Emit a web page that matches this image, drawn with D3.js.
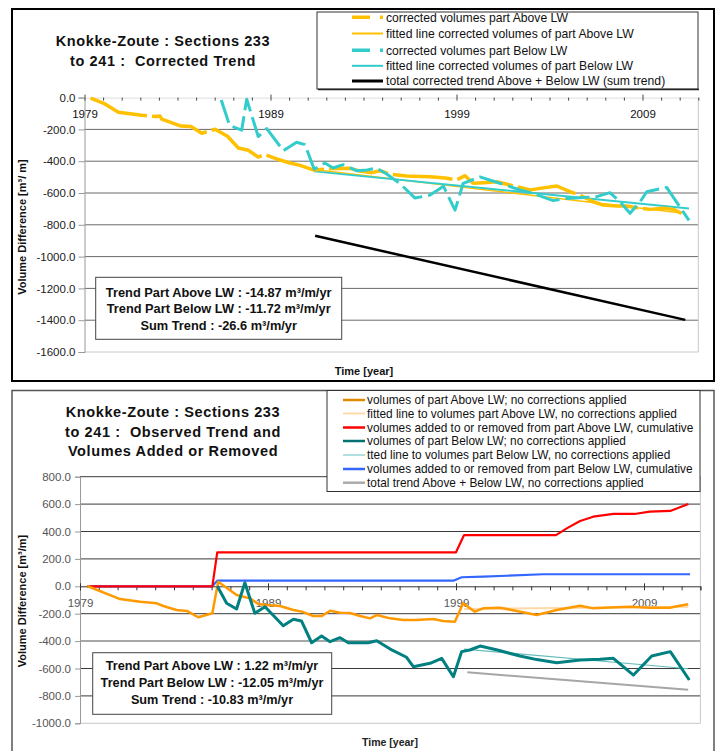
<!DOCTYPE html>
<html><head><meta charset="utf-8">
<script src="https://cdn.jsdelivr.net/npm/d3@7"></script>
<style>
body{margin:0;background:#fff;}
svg{display:block;font-family:"Liberation Sans",Arial,sans-serif;}
text{white-space:pre;}
</style></head>
<body><svg id="c" width="715" height="751"></svg>
<script>
// ---------- DATA: top chart (corrected trend) ----------
const aboveCorrYears = [1979.33,1980.1,1980.82,1982.08,1982.85,1983.06,1983.15,1984.19,1984.73,1985.3,1986.02,1986.69,1987.27,1987.81,1988.34,1988.7,1989.33,1990.05,1990.59,1991.3,1992.36,1993.27,1993.81,1994.44,1994.89,1995.43,1996.32,1997.58,1998.4,1999.01,1999.46,1999.9,2000.44,2001.16,2001.7,2002.3,2002.95,2003.49,2004.39,2005.1,2005.64,2006.35,2006.89,2007.61,2008.15,2008.87,2009.4,2010.12,2010.66,2011.1];
const aboveCorrVals  = [-4,-40,-92,-111,-119,-116,-135,-179,-182,-224,-199,-243,-317,-331,-374,-358,-386,-411,-426,-455,-446,-445,-462,-472,-460,-482,-493,-498,-506,-518,-491,-539,-535,-529,-545,-562,-581,-571,-556,-592,-613,-655,-676,-682,-682,-696,-703,-696,-703,-728];
const belowCorrYears = [1986.35,1986.8,1987.45,1987.72,1988.34,1988.8,1989.69,1990.4,1990.85,1991.35,1991.92,1992.37,1992.9,1993.63,1994.2,1994.7,1995.25,1996.0,1996.77,1997.58,1998.3,1998.92,1999.36,2000.26,2001.07,2001.6,2002.41,2003.13,2003.85,2004.2,2004.92,2005.6,2006.54,2007.25,2007.79,2008.33,2008.87,2009.23,2010.3,2011.5];
const belowCorrVals  = [-15,-175,-205,-10,-245,-195,-334,-281,-296,-450,-411,-443,-422,-460,-455,-443,-481,-545,-632,-613,-558,-708,-539,-499,-529,-548,-581,-602,-634,-648,-634,-630,-623,-598,-655,-728,-655,-592,-565,-772];
const aboveFitYears = [1991.3, 2011.1];
const aboveFitVals  = [-452, -726];
const belowFitYears = [1991.35, 2011.5];
const belowFitVals  = [-464, -697];
const sumTrendYears = [1991.4, 2011.3];
const sumTrendVals  = [-869, -1398];
const topYTicks = [0,-200,-400,-600,-800,-1000,-1200,-1400,-1600];

// ---------- DATA: bottom chart (observed trend) ----------
const aboveObsYears = [1979.39,1981.13,1982.2,1983.08,1983.43,1984.14,1984.68,1985.29,1986.04,1986.35,1987.33,1988.04,1988.48,1988.93,1989.64,1990.35,1990.8,1991.41,1991.86,1992.3,1992.83,1993.36,1993.9,1994.43,1994.78,1995.5,1996.2,1996.9,1997.8,1998.3,1998.94,1999.38,2000.0,2000.45,2001.34,2002.23,2003.29,2004.36,2005.6,2006.3,2007.2,2008.26,2009.3,2010.37,2010.9,2011.35];
const aboveObsVals  = [2,-93,-112,-124,-144,-173,-180,-226,-197,34,-64,-88,-129,-137,-144,-173,-185,-217,-217,-178,-193,-195,-217,-234,-210,-234,-246,-246,-239,-253,-258,-124,-185,-161,-156,-180,-209,-173,-142,-161,-155,-149,-156,-156,-142,-131];
const belowObsYears = [1986.3,1986.8,1987.33,1987.77,1988.3,1988.84,1989.81,1990.35,1990.78,1991.32,1991.85,1992.3,1992.83,1993.27,1994.34,1994.78,1995.5,1996.37,1996.73,1997.62,1998.24,1998.86,1999.3,1999.74,2000.28,2001.2,2002.4,2003.3,2004.36,2005.6,2006.66,2007.37,2008.44,2009.41,2010.4,2011.41];
const belowObsVals  = [2,-124,-166,26,-197,-149,-288,-241,-253,-412,-363,-404,-375,-412,-412,-397,-458,-518,-587,-562,-526,-660,-477,-465,-436,-465,-509,-535,-558,-538,-533,-526,-648,-509,-477,-684];
const addedAboveYears = [1979.39,1986.04,1986.3,1999.0,1999.43,2004.32,2004.89,2005.6,2006.3,2007.37,2008.5,2009.3,2010.4,2011.36];
const addedAboveVals  = [0,0,248,248,374,374,423,477,508,528,528,545,550,601];
const addedBelowYears = [1979.39,1986.04,1986.3,1998.86,1999.3,2000.45,2001.7,2003.64,2011.45];
const addedBelowVals  = [0,0,41,41,66,70,77,88,88];
const aboveObsFitYears = [1999.43, 2011.35];
const aboveObsFitVals  = [-165, -150];
const belowObsFitYears = [1999.43, 2011.35];
const belowObsFitVals  = [-458, -602];
const totalObsYears = [1999.6, 2011.35];
const totalObsVals  = [-628, -755];
const botYTicks = [800,600,400,200,0,-200,-400,-600,-800,-1000];

const xLabelYears = [1979,1989,1999,2009];
const yearTicks = d3.range(1979, 2013);

const topLegend = [
  "corrected volumes part Above LW",
  "fitted line corrected volumes of part Above LW",
  "corrected volumes part Below LW",
  "fitted line corrected volumes of part Below LW",
  "total corrected trend Above + Below LW (sum trend)"];
const botLegend = [
  "volumes of part Above LW; no corrections applied",
  "fitted line to volumes part Above LW, no corrections applied",
  "volumes added to or removed from part Above LW, cumulative",
  "volumes of part Below LW; no corrections applied",
  "tted line to volumes part Below LW, no corrections applied",
  "volumes added to or removed from part Below LW, cumulative",
  "total trend Above + Below LW, no corrections applied"];
const topBox = ["Trend Part Above LW : -14.87 m\u00b3/m/yr","Trend Part Below LW : -11.72 m\u00b3/m/yr","Sum Trend : -26.6 m\u00b3/m/yr"];
const botBox = ["Trend Part Above LW : 1.22 m\u00b3/m/yr","Trend Part Below LW : -12.05 m\u00b3/m/yr","Sum Trend : -10.83 m\u00b3/m/yr"];

// ---------- DRAW ----------
const svg = d3.select("#c");
const zip = (xs, ys) => xs.map((x,i)=>[x, ys[i]]);
const fmt = d => d.toFixed(1);

function drawLine(g, x, y, xs, ys, color, width, dash){
  const line = d3.line().x(d=>x(d[0])).y(d=>y(d[1]));
  g.append("path").datum(zip(xs,ys)).attr("d", line)
    .attr("fill","none").attr("stroke",color).attr("stroke-width",width)
    .attr("stroke-linejoin","round")
    .attr("stroke-dasharray", dash || null);
}

// ===== TOP CHART =====
svg.append("rect").attr("x",12).attr("y",9).attr("width",702).attr("height",372)
  .attr("fill","#fff").attr("stroke","#000").attr("stroke-width",2);

const xT = d3.scaleLinear().domain([1979,2012]).range([84.5,698.3]);
const yT = d3.scaleLinear().domain([0,-1600]).range([97.6,352]);
const gT = svg.append("g");

gT.selectAll(".gt").data(topYTicks.filter(v=>v!==0)).enter().append("line")
  .attr("x1",xT(1979)).attr("x2",xT(2012)).attr("y1",d=>yT(d)).attr("y2",d=>yT(d))
  .attr("stroke",d=>d===-1600?"#c8c8c8":"#6a6a6a").attr("stroke-width",1);
gT.append("line").attr("x1",xT(2012)).attr("x2",xT(2012)).attr("y1",yT(0)).attr("y2",yT(-1600)).attr("stroke","#c8c8c8");

const yAxT = gT.append("g").attr("transform",`translate(${xT(1979)},0)`)
  .call(d3.axisLeft(yT).tickValues(topYTicks).tickFormat(fmt).tickSize(6).tickPadding(3));
yAxT.select(".domain").attr("stroke","#999");
yAxT.selectAll(".tick line").attr("stroke","#999");
yAxT.selectAll("text").attr("font-size","11.5px").attr("fill","#222").attr("font-family","Liberation Sans, Arial");

const xAxT = gT.append("g").attr("transform",`translate(0,${yT(0)})`)
  .call(d3.axisBottom(xT).tickValues(yearTicks).tickSize(3).tickPadding(9)
    .tickFormat(d=> xLabelYears.includes(d) ? String(d) : ""));
xAxT.select(".domain").attr("stroke","#ddd");
xAxT.selectAll(".tick line").attr("stroke","#444");
xAxT.selectAll(".tick").filter(d=>xLabelYears.includes(d)).select("line").attr("y1",-3);
xAxT.selectAll("text").attr("font-size","11.5px").attr("fill","#111").attr("font-family","Liberation Sans, Arial");

drawLine(gT,xT,yT,aboveFitYears,aboveFitVals,"#FFC000",1.5);
drawLine(gT,xT,yT,belowFitYears,belowFitVals,"#33CCCC",2);
drawLine(gT,xT,yT,aboveCorrYears,aboveCorrVals,"#FFC000",3.5,"60,5");
drawLine(gT,xT,yT,belowCorrYears,belowCorrVals,"#33CCCC",3,"24,6");
drawLine(gT,xT,yT,sumTrendYears,sumTrendVals,"#000",2.5);

const tT = svg.append("text").attr("font-weight","bold").attr("font-size","14.5px")
  .attr("letter-spacing","0.6px").attr("text-anchor","middle").attr("fill","#111");
tT.append("tspan").attr("x",163).attr("y",46).text("Knokke-Zoute : Sections 233");
tT.append("tspan").attr("x",163).attr("y",66).text("to 241 :  Corrected Trend");

svg.append("rect").attr("x",317).attr("y",12).attr("width",381).attr("height",77)
  .attr("fill","#fff").attr("stroke","#333").attr("stroke-width",1);
svg.append("line").attr("x1",318).attr("x2",699).attr("y1",89.5).attr("y2",89.5).attr("stroke","#222").attr("stroke-width",1.5);
const tLegStyles = [["#FFC000",3.5,"18,10"],["#FFC000",2,null],["#33CCCC",3.5,"18,10"],["#33CCCC",2,null],["#000",3,null]];
const tLegY = [17.3,33.5,50.3,65.8,81];
topLegend.forEach((t,i)=>{
  svg.append("line").attr("x1",352).attr("x2",383).attr("y1",tLegY[i]).attr("y2",tLegY[i])
    .attr("stroke",tLegStyles[i][0]).attr("stroke-width",tLegStyles[i][1]).attr("stroke-dasharray",tLegStyles[i][2]);
  svg.append("text").attr("x",386).attr("y",tLegY[i]).attr("dy","0.35em").attr("font-size","12.2px").attr("fill","#111").text(t);
});

svg.append("rect").attr("x",95.7).attr("y",277.3).attr("width",246).attr("height",62)
  .attr("fill","#fff").attr("stroke","#444").attr("stroke-width",1);
topBox.forEach((t,i)=>{
  svg.append("text").attr("x",218.7).attr("y",[296.5,313,329.5][i]).attr("text-anchor","middle")
    .attr("font-weight","bold").attr("font-size","12.8px").attr("fill","#111").text(t);
});

svg.append("text").attr("transform","translate(26,227) rotate(-90)").attr("text-anchor","middle")
  .attr("font-weight","bold").attr("font-size","11px").attr("fill","#111").text("Volume Difference [m\u00b3/ m]");
svg.append("text").attr("x",364).attr("y",375).attr("text-anchor","middle")
  .attr("font-weight","bold").attr("font-size","11px").attr("fill","#111").text("Time [year]");

// ===== BOTTOM CHART =====
svg.append("rect").attr("x",12).attr("y",390.5).attr("width",702).attr("height",370)
  .attr("fill","#fff").attr("stroke","#555").attr("stroke-width",1.5);

const xB = d3.scaleLinear().domain([1979,2012]).range([80,700.4]);
const yB = d3.scaleLinear().domain([800,-1000]).range([476.7,723.3]);
const gB = svg.append("g");

gB.selectAll(".gb").data(botYTicks.filter(v=>v!==0)).enter().append("line")
  .attr("x1",xB(1979)).attr("x2",xB(2012)).attr("y1",d=>yB(d)).attr("y2",d=>yB(d))
  .attr("stroke",d=>d===-1000?"#c8c8c8":(d===-400?"#8a8a8a":"#3a3a3a")).attr("stroke-width",d=>d===-400?1.5:1);
gB.append("line").attr("x1",xB(2012)).attr("x2",xB(2012)).attr("y1",yB(800)).attr("y2",yB(-1000)).attr("stroke","#c8c8c8");

const yAxB = gB.append("g").attr("transform",`translate(${xB(1979)},0)`)
  .call(d3.axisLeft(yB).tickValues(botYTicks).tickFormat(fmt).tickSize(5).tickPadding(4));
yAxB.select(".domain").attr("stroke","#999");
yAxB.selectAll(".tick line").attr("stroke","#999");
yAxB.selectAll("text").attr("font-size","11.5px").attr("fill","#555").attr("font-family","Liberation Sans, Arial");

const xAxB = gB.append("g").attr("transform",`translate(0,${yB(0)})`)
  .call(d3.axisBottom(xB).tickValues(yearTicks).tickSize(4).tickPadding(9)
    .tickFormat(d=> xLabelYears.includes(d) ? String(d) : ""));
xAxB.select(".domain").attr("stroke","#333");
xAxB.selectAll(".tick line").attr("stroke","#333");
xAxB.selectAll(".tick").filter(d=>xLabelYears.includes(d)).select("line").attr("y1",-3);
xAxB.selectAll("text").attr("font-size","11.5px").attr("fill","#555").attr("font-family","Liberation Sans, Arial");

drawLine(gB,xB,yB,totalObsYears,totalObsVals,"#A6A6A6",2);
drawLine(gB,xB,yB,belowObsFitYears,belowObsFitVals,"#66BBBB",1.2);
drawLine(gB,xB,yB,aboveObsFitYears,aboveObsFitVals,"#FFD8A8",2);
drawLine(gB,xB,yB,addedBelowYears,addedBelowVals,"#3366FF",2.2);
drawLine(gB,xB,yB,addedAboveYears,addedAboveVals,"#FF0000",2.2);
drawLine(gB,xB,yB,aboveObsYears,aboveObsVals,"#FF9900",2.5);
drawLine(gB,xB,yB,belowObsYears,belowObsVals,"#008080",3);

const tB = svg.append("text").attr("font-weight","bold").attr("font-size","14.5px")
  .attr("letter-spacing","0.6px").attr("text-anchor","middle").attr("fill","#111");
tB.append("tspan").attr("x",173).attr("y",417).text("Knokke-Zoute : Sections 233");
tB.append("tspan").attr("x",173).attr("y",436.5).text("to 241 :  Observed Trend and");
tB.append("tspan").attr("x",173).attr("y",456).text("Volumes Added or Removed");

svg.append("rect").attr("x",327).attr("y",390.5).attr("width",373).attr("height",101)
  .attr("fill","#fff").attr("stroke","#333").attr("stroke-width",1);
const bLegStyles = [["#E08A00",2.5],["#FFD8A8",2],["#FF0000",2.5],["#007070",2.5],["#99D5D5",1.5],["#3366FF",2.5],["#AAAAAA",2.5]];
const bLegY = [400,413.5,427.5,441,455,469,482.7];
botLegend.forEach((t,i)=>{
  svg.append("line").attr("x1",343).attr("x2",365).attr("y1",bLegY[i]).attr("y2",bLegY[i])
    .attr("stroke",bLegStyles[i][0]).attr("stroke-width",bLegStyles[i][1]);
  svg.append("text").attr("x",367).attr("y",bLegY[i]).attr("dy","0.35em").attr("font-size","11.85px").attr("fill","#111").text(t);
});

svg.append("rect").attr("x",92.7).attr("y",652.7).attr("width",239).attr("height",61.6)
  .attr("fill","#fff").attr("stroke","#444").attr("stroke-width",1);
botBox.forEach((t,i)=>{
  svg.append("text").attr("x",212).attr("y",[666,682.7,699.3][i]).attr("dy","0.35em").attr("text-anchor","middle")
    .attr("font-weight","bold").attr("font-size","12.7px").attr("fill","#111").text(t);
});

svg.append("text").attr("transform","translate(26,601) rotate(-90)").attr("text-anchor","middle")
  .attr("font-weight","bold").attr("font-size","11px").attr("fill","#111").text("Volume Difference [m\u00b3/m]");
svg.append("text").attr("x",390).attr("y",746).attr("text-anchor","middle")
  .attr("font-weight","bold").attr("font-size","10.5px").attr("fill","#222").text("Time [year]");
</script></body></html>
